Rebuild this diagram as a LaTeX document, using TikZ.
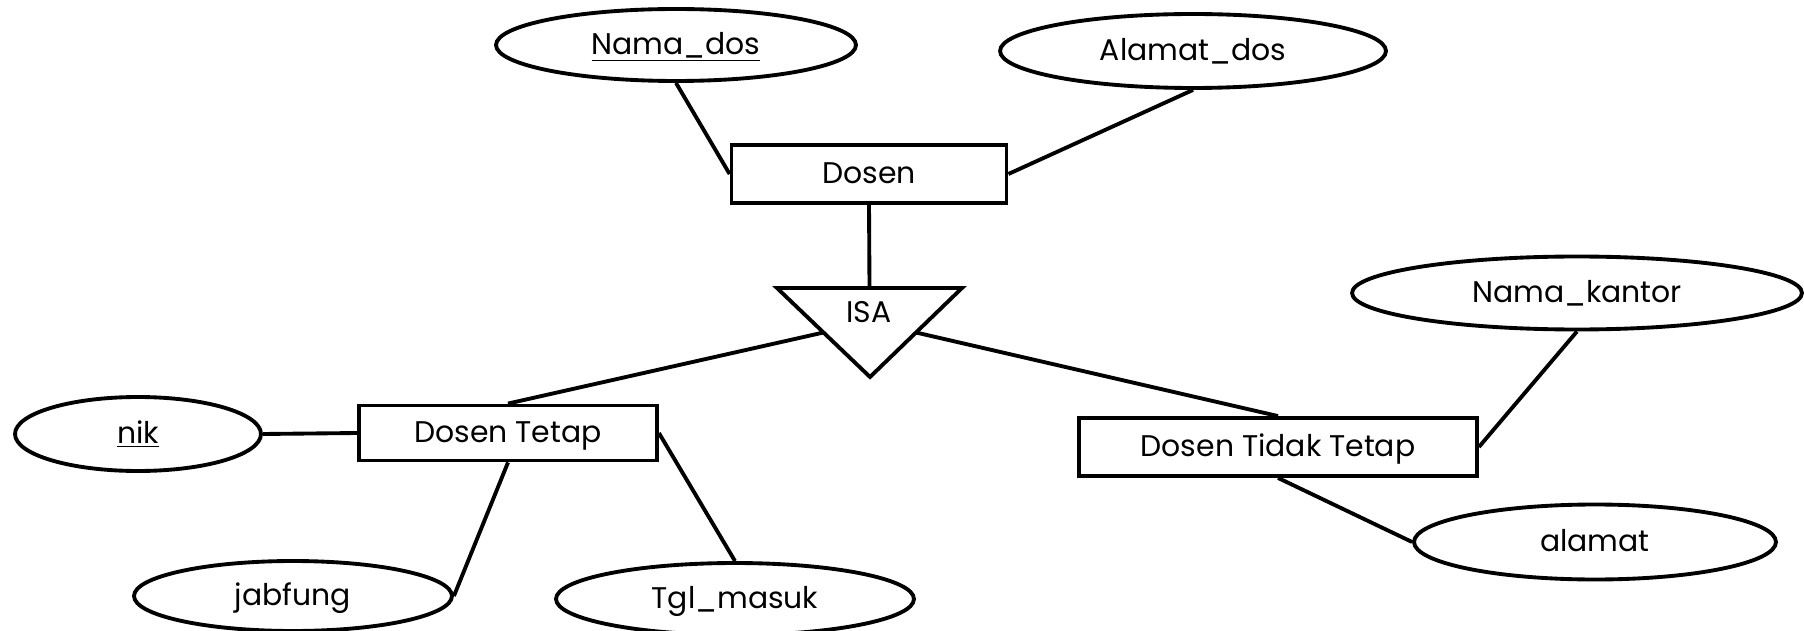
\documentclass[tikz,border=0pt]{standalone}
\usepackage{fontspec}
\setmainfont{Poppins}
\usetikzlibrary{calc, shapes.geometric}

\tikzset{
  erfont/.style={font=\fontsize{17}{20}\selectfont, text height=12pt, text depth=1pt},
  entity/.style={draw, rectangle, line width=2.2pt, minimum height=1.16cm, inner sep=0pt, erfont},
  attrib/.style={draw, ellipse, line width=2.2pt, inner sep=0pt, erfont},
  link/.style={line width=2.2pt}
}

\begin{document}
\begin{tikzpicture}[x=0.02cm, y=-0.02cm]
  \useasboundingbox (0,0) rectangle (1804,631);
  % entities
  \node[entity, minimum width=5.5cm] (dosen) at (869,174) {Dosen};
  \node[entity, minimum width=5.96cm, minimum height=1.1cm] (dtetap) at (508,433) {Dosen Tetap};
  \node[entity, minimum width=7.96cm] (dtidak) at (1278,447) {Dosen Tidak Tetap};
  % attributes
  \node[attrib, minimum width=7.2cm, minimum height=1.44cm] (namados) at (676,45) {\underline{Nama\_dos}};
  \node[attrib, minimum width=7.72cm, minimum height=1.48cm] (alamatdos) at (1193,51) {Alamat\_dos};
  \node[attrib, minimum width=4.92cm, minimum height=1.48cm] (nik) at (138,434) {\underline{nik}};
  \node[attrib, minimum width=6.36cm, minimum height=1.4cm] (jabfung) at (293,596) {jabfung};
  \node[attrib, minimum width=7.16cm, minimum height=1.44cm] (tglmasuk) at (735,599) {Tgl\_masuk};
  \node[attrib, minimum width=9.0cm, minimum height=1.46cm] (namakantor) at (1577,293) {Nama\_kantor};
  \node[attrib, minimum width=7.24cm, minimum height=1.5cm] (alamat) at (1595,542) {alamat};
  % ISA triangle
  \coordinate (isaL) at (777,288);
  \coordinate (isaR) at (962,288);
  \coordinate (isaB) at (870,377);
  \draw[link] (isaL) -- (isaR) -- (isaB) -- cycle;
  \node[erfont] (isa) at (869,313) {ISA};
  \coordinate (isaT) at ($(isaL)!0.5!(isaR)$);
  \coordinate (isaLS) at ($(isaL)!0.5!(isaB)$);
  \coordinate (isaRS) at ($(isaR)!0.5!(isaB)$);
  % connectors
  \foreach \a/\b in {namados.south/dosen.west, alamatdos.south/dosen.east,
      dosen.south/isaT, isaLS/dtetap.north, isaRS/dtidak.north,
      nik.east/dtetap.west, dtetap.south/jabfung.east, dtetap.east/tglmasuk.north,
      dtidak.east/namakantor.south, dtidak.south/alamat.west}
    \draw[link] (\a) -- (\b);
\end{tikzpicture}
\end{document}
